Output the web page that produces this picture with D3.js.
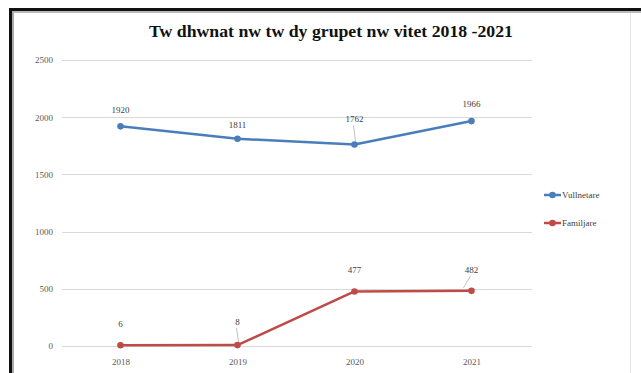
<!DOCTYPE html>
<html>
<head>
<meta charset="utf-8">
<script src="https://cdn.jsdelivr.net/npm/d3@7"></script>
<style>
  html, body { margin: 0; padding: 0; background: #fff; }
  svg { display: block; }
  text { font-family: 'Liberation Serif', 'Times New Roman', serif; }
</style>
</head>
<body>
<svg id="chart" width="641" height="373"></svg>
<script>
// Chart data
const years = ["2018", "2019", "2020", "2021"];
const seriesNames = ["Vullnetare", "Familjare"];
const vullnetare = [1920, 1811, 1762, 1966];
const familjare = [6, 8, 477, 482];
const yTicks = [0, 500, 1000, 1500, 2000, 2500];
const titleText = "Tw dhwnat nw tw dy grupet nw vitet 2018 -2021";

const colors = ["#4a7ebb", "#be4b48"];
const serif = "'Liberation Serif', 'Times New Roman', serif";

const svg = d3.select("#chart");
const W = 641, H = 373;

// Page frame around the chart
svg.append("rect").attr("x", 0).attr("y", 0).attr("width", W).attr("height", H).attr("fill", "#fff");
svg.append("rect").attr("x", 9).attr("y", 8).attr("width", W - 9).attr("height", 3).attr("fill", "#111");
svg.append("rect").attr("x", 9).attr("y", 11).attr("width", W - 9).attr("height", 2).attr("fill", "#bbb");
svg.append("rect").attr("x", 9).attr("y", 8).attr("width", 3).attr("height", H - 8).attr("fill", "#111");
svg.append("rect").attr("x", 12).attr("y", 11).attr("width", 2).attr("height", H - 11).attr("fill", "#aaa");
svg.append("line").attr("x1", 630.5).attr("x2", 630.5).attr("y1", 13).attr("y2", H)
  .attr("stroke", "#e6e6e6").attr("stroke-width", 1);

// Scales
const x = d3.scalePoint().domain(years).range([120.5, 471.5]);
const y = d3.scaleLinear().domain([0, 2500]).range([346, 60]);
const gridX0 = 62, gridX1 = 532;

// Title
svg.append("text")
  .attr("x", 331).attr("y", 37)
  .attr("text-anchor", "middle")
  .style("font-family", serif)
  .attr("font-weight", "bold")
  .attr("font-size", 17)
  .attr("textLength", 364)
  .attr("lengthAdjust", "spacingAndGlyphs")
  .attr("fill", "#111")
  .text(titleText);

// Horizontal gridlines
svg.append("g").selectAll("line").data(yTicks).join("line")
  .attr("x1", gridX0).attr("x2", gridX1)
  .attr("y1", d => Math.round(y(d)) + 0.5).attr("y2", d => Math.round(y(d)) + 0.5)
  .attr("stroke", "#d9d9d9").attr("stroke-width", 1);

// Y axis labels
const yAxis = d3.axisLeft(y).tickValues(yTicks).tickFormat(d3.format("d")).tickSize(0).tickPadding(0);
const gy = svg.append("g").attr("transform", "translate(53,0)").call(yAxis);
gy.attr("font-family", null);
gy.select(".domain").remove();
gy.selectAll("text")
  .style("font-family", serif)
  .attr("font-size", 9).attr("fill", "#595959");

// X axis labels
const xAxis = d3.axisBottom(x).tickSize(0).tickPadding(0);
const gx = svg.append("g").attr("transform", "translate(0,359)").call(xAxis);
gx.attr("font-family", null);
gx.select(".domain").remove();
gx.selectAll("text")
  .style("font-family", serif)
  .attr("font-size", 9).attr("fill", "#595959");

const line = d3.line().x((d, i) => x(years[i])).y(d => y(d));

const series = [vullnetare, familjare];

series.forEach((vals, s) => {
  svg.append("path").datum(vals)
    .attr("d", line)
    .attr("fill", "none")
    .attr("stroke", colors[s])
    .attr("stroke-width", 2.5)
    .attr("stroke-linejoin", "round");
  svg.append("g").selectAll("circle").data(vals).join("circle")
    .attr("cx", (d, i) => x(years[i]))
    .attr("cy", d => y(d))
    .attr("r", 3.3)
    .attr("fill", colors[s]);
});

// Data labels (offset above each point)
const labelOffsets = [
  [-13, -11, -22, -14],
  [-18, -20, -18, -18]
];
const leaders = [[false, false, true, false], [false, true, false, true]];
series.forEach((vals, s) => {
  vals.forEach((v, i) => {
    const px = x(years[i]), py = y(v);
    const ly = py + labelOffsets[s][i];
    if (leaders[s][i]) {
      svg.append("line")
        .attr("x1", px - 1).attr("y1", ly + 3)
        .attr("x2", px + (s === 1 && i === 3 ? -8 : 1)).attr("y2", py - 3)
        .attr("stroke", "#a6a6a6").attr("stroke-width", 0.7);
    }
    svg.append("text")
      .attr("x", px).attr("y", ly)
      .attr("text-anchor", "middle")
      .style("font-family", serif)
      .attr("font-size", 9).attr("fill", "#404040")
      .text(v);
  });
});

// Legend
const legend = svg.append("g");
seriesNames.forEach((name, s) => {
  const ly = 195 + s * 28;
  legend.append("line")
    .attr("x1", 544).attr("x2", 561).attr("y1", ly).attr("y2", ly)
    .attr("stroke", colors[s]).attr("stroke-width", 2.5);
  legend.append("circle")
    .attr("cx", 552.5).attr("cy", ly).attr("r", 3.3)
    .attr("fill", colors[s]);
  legend.append("text")
    .attr("x", 562).attr("y", ly + 3)
    .style("font-family", serif)
    .attr("font-size", 9).attr("fill", "#404040")
    .text(name);
});
</script>
</body>
</html>
